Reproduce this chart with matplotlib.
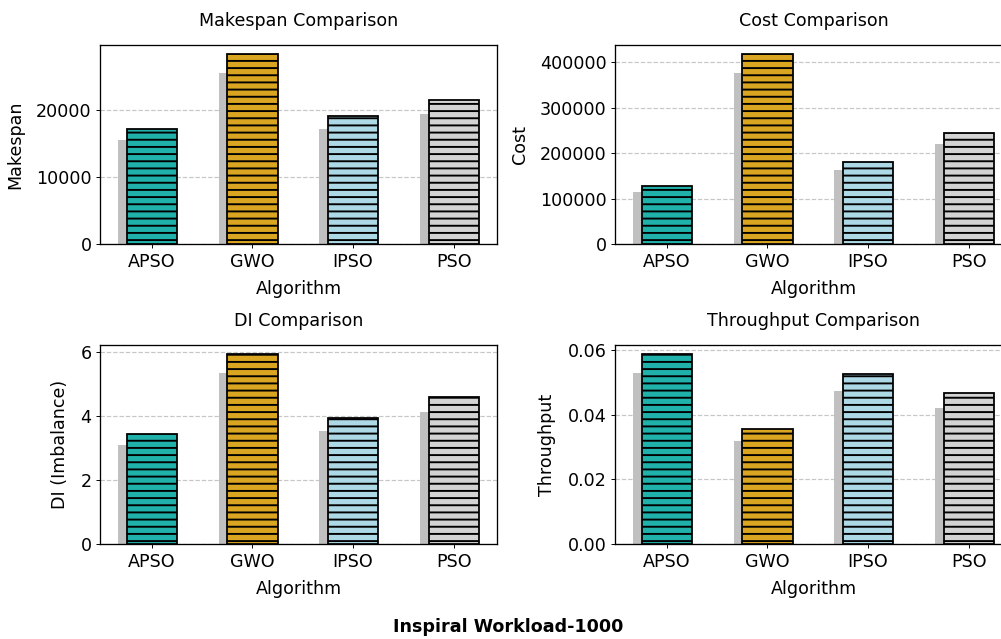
import matplotlib
matplotlib.use("Agg")
import matplotlib.pyplot as plt
import numpy as np

algorithms = ["APSO", "GWO", "IPSO", "PSO"]
makespan = [17180, 28280, 19110, 21540]
cost = [128400, 416900, 180300, 244500]
di = [3.436, 5.93, 3.925, 4.59]
throughput = [0.0586, 0.0355, 0.0525, 0.0467]

colors = ["#20B2AA", "#DAA520", "#ADD8E6", "#D3D3D3"]
shadow_color = "#C0C0C0"
shadow_scale = 0.9
shadow_shift = 0.085
bar_width = 0.5

DPI = 86
FS = 14.7
plt.rcParams.update({
    "font.family": "DejaVu Sans",
    "font.size": FS,
    "hatch.linewidth": 1.6,
    "hatch.color": "black",
    "axes.linewidth": 1.1,
})

fig = plt.figure(figsize=(1001 / DPI, 639 / DPI), dpi=DPI)

W, H = 1001.0, 639.0
ax_w = 397 / W
ax_h = 199.6 / H
lefts = [100 / W, 615 / W]
bottoms = [(H - 244.3) / H, (H - 544.3) / H]

panels = [
    ("Makespan Comparison", "Makespan", makespan),
    ("Cost Comparison", "Cost", cost),
    ("DI Comparison", "DI (Imbalance)", di),
    ("Throughput Comparison", "Throughput", throughput),
]

for i, (title, ylabel, vals) in enumerate(panels):
    r, c = divmod(i, 2)
    ax = fig.add_axes([lefts[c], bottoms[r], ax_w, ax_h])
    x = np.arange(len(algorithms))
    vals = np.asarray(vals, dtype=float)
    ax.bar(x - shadow_shift, vals * shadow_scale, width=bar_width,
           color=shadow_color, zorder=2, linewidth=0)
    ax.bar(x, vals, width=bar_width, color=colors, edgecolor="black",
           linewidth=1.5, hatch="--", zorder=3)
    ax.set_xticks(x)
    ax.set_xticklabels(algorithms, fontsize=FS)
    ax.tick_params(axis="both", labelsize=FS)
    ax.set_title(title, fontsize=FS, pad=16)
    ax.set_xlabel("Algorithm", fontsize=FS, labelpad=7.5)
    ax.set_ylabel(ylabel, fontsize=FS, labelpad=9.5)
    ax.set_axisbelow(True)
    ax.yaxis.grid(True, linestyle="--", color="#b0b0b0", alpha=0.7, linewidth=1.0)

fig.text(508 / W, 12 / H, "Inspiral Workload-1000", ha="center", va="center",
         fontsize=FS, fontweight="bold")

fig.savefig("out.png", dpi=DPI)
